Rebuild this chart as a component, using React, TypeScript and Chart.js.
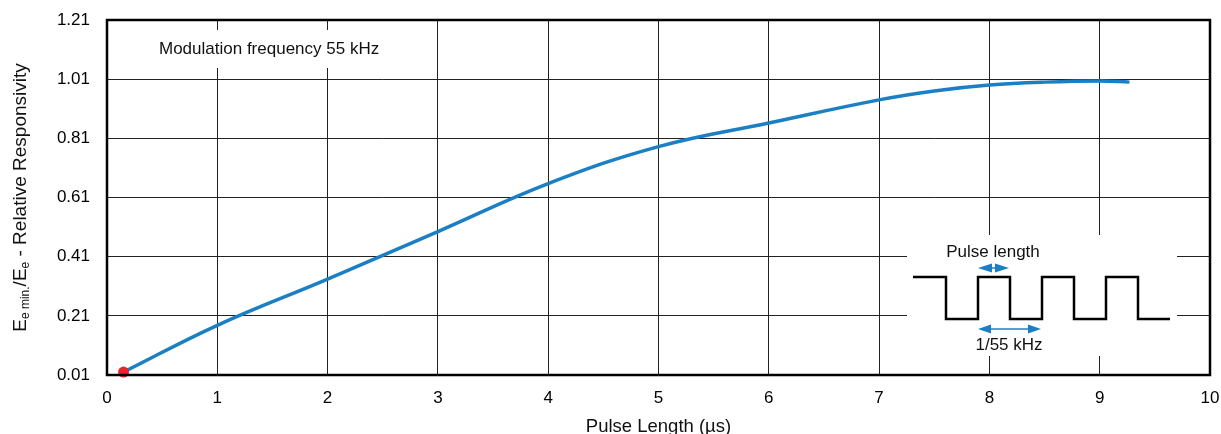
import React, { useEffect, useRef } from 'react';
import { Chart, registerables } from 'chart.js';

Chart.register(...registerables);

// ---- data ----
const pulseLength = [0.15, 1, 2, 3, 4, 5, 6, 7, 7.5, 8, 8.5, 9, 9.27];
const responsivity = [0.02, 0.178, 0.334, 0.495, 0.657, 0.782, 0.862, 0.94, 0.97, 0.99, 1.0, 1.004, 1.0];
const markerX = [0.15];
const markerY = [0.02];
const xTickValues = [0, 1, 2, 3, 4, 5, 6, 7, 8, 9, 10];
const yTickValues = [0.01, 0.21, 0.41, 0.61, 0.81, 1.01, 1.21];

const FONT = "'Liberation Sans', Arial, Helvetica, sans-serif";
const BLUE = '#1b7fc4';

function arrow(ctx: CanvasRenderingContext2D, x1: number, x2: number, y: number, head: number) {
  ctx.beginPath();
  ctx.moveTo(x1 + head - 1, y);
  ctx.lineTo(x2 - head + 1, y);
  ctx.stroke();
  ctx.beginPath();
  ctx.moveTo(x1, y);
  ctx.lineTo(x1 + head, y - 4.5);
  ctx.lineTo(x1 + head, y + 4.5);
  ctx.closePath();
  ctx.fill();
  ctx.beginPath();
  ctx.moveTo(x2, y);
  ctx.lineTo(x2 - head, y - 4.5);
  ctx.lineTo(x2 - head, y + 4.5);
  ctx.closePath();
  ctx.fill();
}

const decor = {
  id: 'decor',
  beforeDatasetsDraw(chart: any) {
    const { ctx, chartArea: ca } = chart;
    ctx.save();
    ctx.fillStyle = '#fff';
    ctx.fillRect(ca.left + 43, ca.top + 10, 245, 38);
    ctx.fillRect(ca.right - 303, ca.top + 215, 270, 121);
    ctx.restore();
  },
  afterDraw(chart: any) {
    const { ctx, chartArea: ca } = chart;
    ctx.save();
    // frame
    ctx.strokeStyle = '#000';
    ctx.lineWidth = 2.5;
    ctx.strokeRect(ca.left, ca.top, ca.right - ca.left, ca.bottom - ca.top);

    // annotation text
    ctx.fillStyle = '#111';
    ctx.font = `17px ${FONT}`;
    ctx.textAlign = 'left';
    ctx.textBaseline = 'middle';
    ctx.fillText('Modulation frequency 55 kHz', ca.left + 52, ca.top + 29);

    // inset square wave
    const x0 = ca.right - 297;
    const hi = ca.top + 257;
    const lo = ca.top + 299;
    const steps = [33, 65, 97, 129, 161, 193, 225];
    ctx.strokeStyle = '#000';
    ctx.lineWidth = 2.5;
    ctx.lineJoin = 'miter';
    ctx.beginPath();
    ctx.moveTo(x0, hi);
    let level = hi;
    steps.forEach((s) => {
      ctx.lineTo(x0 + s, level);
      level = level === hi ? lo : hi;
      ctx.lineTo(x0 + s, level);
    });
    ctx.lineTo(x0 + 257, level);
    ctx.stroke();

    // arrows
    ctx.strokeStyle = BLUE;
    ctx.fillStyle = BLUE;
    ctx.lineWidth = 1.5;
    arrow(ctx, x0 + 65, x0 + 96, ca.top + 248, 14);
    arrow(ctx, x0 + 65, x0 + 128, ca.top + 309, 13);

    ctx.fillStyle = '#111';
    ctx.font = `17px ${FONT}`;
    ctx.textAlign = 'center';
    ctx.textBaseline = 'middle';
    ctx.fillText('Pulse length', x0 + 80, ca.top + 232);
    ctx.fillText('1/55 kHz', x0 + 96, ca.top + 325);

    // x title
    ctx.font = `18.5px ${FONT}`;
    ctx.fillText('Pulse Length (\u00b5s)', (ca.left + ca.right) / 2, 427);

    // y title with subscripts
    const main = `19px ${FONT}`;
    const sub = `12px ${FONT}`;
    const parts = [
      { t: 'E', f: main, dy: 0 },
      { t: 'e min.', f: sub, dy: 5 },
      { t: '/E', f: main, dy: 0 },
      { t: 'e', f: sub, dy: 5 },
      { t: ' - Relative Responsivity', f: main, dy: 0 },
    ];
    let total = 0;
    parts.forEach((p) => {
      ctx.font = p.f;
      total += ctx.measureText(p.t).width;
    });
    ctx.translate(21, (ca.top + ca.bottom) / 2);
    ctx.rotate(-Math.PI / 2);
    ctx.textAlign = 'left';
    let x = -total / 2;
    parts.forEach((p) => {
      ctx.font = p.f;
      ctx.fillText(p.t, x, p.dy);
      x += ctx.measureText(p.t).width;
    });
    ctx.restore();
  },
};

export default function App() {
  const ref = useRef<HTMLCanvasElement | null>(null);

  useEffect(() => {
    document.body.style.margin = '0';
    if (!ref.current) return;
    const tickFont = { family: FONT, size: 17 };
    const chart = new Chart(ref.current, {
      type: 'line',
      data: {
        datasets: [
          {
            data: markerX.map((x, i) => ({ x, y: markerY[i] })),
            borderColor: '#e8242b',
            backgroundColor: '#e8242b',
            pointRadius: 5.5,
            pointBorderWidth: 0,
            showLine: false,
            clip: false as any,
            order: 0,
          },
          {
            data: pulseLength.map((x, i) => ({ x, y: responsivity[i] })),
            borderColor: BLUE,
            borderWidth: 3.5,
            pointRadius: 0,
            tension: 0.4,
            fill: false,
            clip: false as any,
            order: 1,
          },
        ],
      },
      options: {
        responsive: false,
        animation: false,
        layout: { padding: { top: 20, right: 11, left: 0, bottom: 0 } },
        plugins: { legend: { display: false }, tooltip: { enabled: false } },
        scales: {
          x: {
            type: 'linear',
            min: 0,
            max: 10,
            afterBuildTicks: (s: any) => {
              s.ticks = xTickValues.map((v) => ({ value: v }));
            },
            afterFit: (s: any) => {
              s.height = 59;
              s.paddingLeft = 0;
              s.paddingRight = 0;
            },
            grid: { color: '#222', lineWidth: 1, drawTicks: false },
            border: { display: false },
            ticks: {
              padding: 13,
              color: '#000',
              font: tickFont,
              maxRotation: 0,
              autoSkip: false,
              callback: (v: any) => String(v),
            },
          },
          y: {
            type: 'linear',
            min: 0.01,
            max: 1.21,
            afterBuildTicks: (s: any) => {
              s.ticks = yTickValues.map((v) => ({ value: v }));
            },
            afterFit: (s: any) => {
              s.width = 107;
              s.paddingTop = 0;
              s.paddingBottom = 0;
            },
            grid: { color: '#222', lineWidth: 1, drawTicks: false },
            border: { display: false },
            ticks: {
              padding: 17,
              color: '#000',
              font: tickFont,
              autoSkip: false,
              callback: (v: any) => Number(v).toFixed(2),
            },
          },
        },
      },
      plugins: [decor],
    } as any);
    return () => chart.destroy();
  }, []);

  return (
    <div style={{ width: 1221, height: 434, background: '#fff' }}>
      <canvas ref={ref} width={1221} height={434} style={{ display: 'block' }} />
    </div>
  );
}
